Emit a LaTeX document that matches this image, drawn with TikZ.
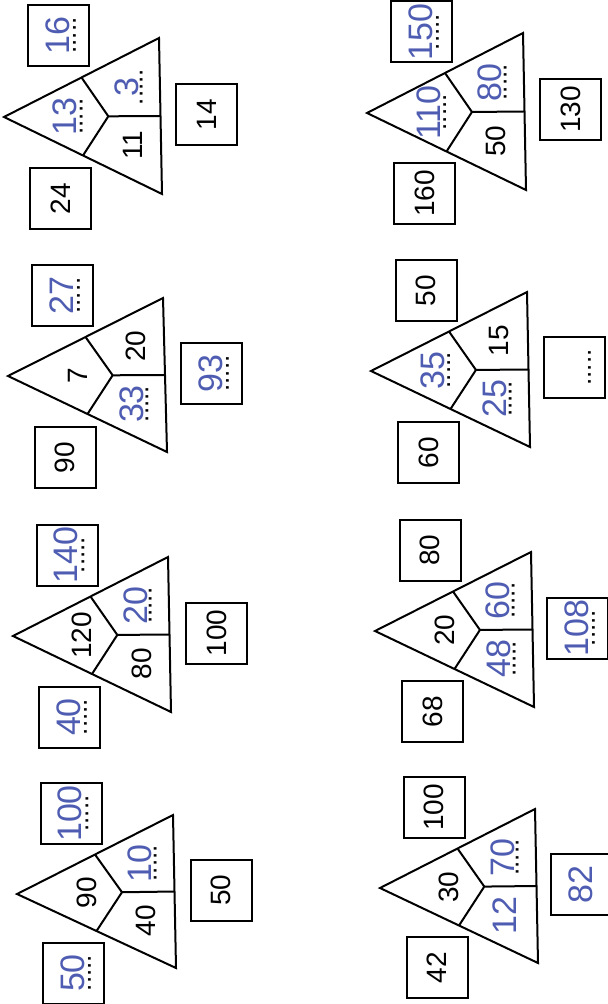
\documentclass[tikz,border=0pt]{standalone}
\usepackage{fontspec}
\setmainfont{Liberation Sans}
\usetikzlibrary{calc}
\definecolor{handblue}{RGB}{78,92,178}
\tikzset{
  triline/.style={draw=black, line width=1pt, line join=miter},
  printed/.style={rotate=90, font=\fontsize{14}{14}\selectfont, inner sep=0pt},
  handtxt/.style={rotate=90, text=handblue, font=\fontsize{17}{17}\selectfont, inner sep=0pt},
  dotline/.style={rotate=90, font=\fontsize{13}{13}\selectfont, inner sep=0pt},
  numbox/.style={draw=black, line width=1pt, minimum width=30.5pt, minimum height=30.5pt,
    inner sep=0pt, rotate=90, font=\fontsize{14}{14}\selectfont},
}
\newcommand\puzzle[4]{%
  \coordinate (#1A) at #2;
  \coordinate (#1T) at #3;
  \coordinate (#1B) at #4;
  \coordinate (#1U) at ($(#1A)!0.5!(#1T)$);
  \coordinate (#1L) at ($(#1A)!0.5!(#1B)$);
  \coordinate (#1R) at ($(#1T)!0.5!(#1B)$);
  \coordinate (#1C) at ($0.3333*(#1A)+0.3333*(#1T)+0.3333*(#1B)$);
  \coordinate (#1P) at ($0.25*(#1A)+0.25*(#1U)+0.25*(#1C)+0.25*(#1L)$);
  \coordinate (#1Q) at ($0.25*(#1U)+0.25*(#1T)+0.25*(#1R)+0.25*(#1C)$);
  \coordinate (#1S) at ($0.25*(#1C)+0.25*(#1R)+0.25*(#1B)+0.25*(#1L)$);
  \draw[triline] (#1A) -- (#1T) -- (#1B) -- cycle;
  \draw[triline] (#1U) -- (#1C) -- (#1L) (#1C) -- (#1R);
}
% printed number in a region
\newcommand\ptext[3]{\node[printed] (#1) at ($(#2)+(4,0)$) {#3};}
% handwritten answer with dotted line: name, coordinate, text, dots offset, text offset
\newcommand\handans[5]{%
  \node[dotline] (#1dots) at ($(#2)+(#4,0)$) {.....};
  \node[handtxt] (#1) at ($(#2)+(#5,0)$) {#3};
}
\newcommand\handonly[3]{\node[handtxt] (#1) at #2 {#3};}
\begin{document}
\begin{tikzpicture}[x=0.5pt,y=-0.5pt]
\useasboundingbox[fill=white] (0,0) rectangle (608,1004);
\clip (0,0) rectangle (608,1004);

% ---- Puzzle a (top left)
\puzzle{a}{(4,117)}{(159,38)}{(162,194)}
\handans{aP}{aP}{13}{12}{-4}
\handans{aQ}{aQ}{3}{14}{-1}
\ptext{aS}{aS}{11}
\node[numbox] (atop) at (58.5,35.5) {};
\handans{atopt}{atop}{16}{16}{-1}
\node[numbox] (abot) at (60.5,199) {24};
\node[numbox] (aright) at (206.5,114.5) {14};

% ---- Puzzle b (top right)
\puzzle{b}{(367,113)}{(523,33)}{(526,190)}
\handans{bP}{bP}{110}{12}{-4}
\handans{bQ}{bQ}{80}{14}{-1}
\ptext{bS}{bS}{50}
\node[numbox] (btop) at (421.5,32) {};
\handans{btopt}{btop}{150}{16}{-1}
\node[numbox] (bbot) at (424.5,193.5) {160};
\node[numbox] (bright) at (570.5,109.5) {130};

% ---- Puzzle c
\puzzle{c}{(8,376)}{(163,298)}{(167,452)}
\ptext{cP}{cP}{7}
\ptext{cQ}{cQ}{20}
\handans{cS}{cS}{33}{14}{-1}
\node[numbox] (ctop) at (62.5,295.5) {};
\handans{ctopt}{ctop}{27}{16}{-1}
\node[numbox] (cbot) at (65,457.5) {90};
\node[numbox] (cright) at (211.5,373.5) {};
\handans{crightt}{cright}{93}{16}{-1}

% ---- Puzzle d
\puzzle{d}{(371,371)}{(527,292)}{(530,447)}
\handans{dP}{dP}{35}{12}{-4}
\ptext{dQ}{dQ}{15}
\handans{dS}{dS}{25}{14}{-1}
\node[numbox] (dtop) at (426,291) {50};
\node[numbox] (dbot) at (428.5,452.5) {60};
\node[numbox] (dright) at (574.5,367.5) {};
\node[dotline] (drightdots) at ($(dright)+(15,0)$) {.....};

% ---- Puzzle e
\puzzle{e}{(13,636)}{(168,557)}{(171,712)}
\ptext{eP}{eP}{120}
\handans{eQ}{eQ}{20}{14}{-1}
\ptext{eS}{eS}{80}
\node[numbox] (etop) at (67,555) {};
\handans{etopt}{etop}{140}{16}{-1}
\node[numbox] (ebot) at (69.5,717) {};
\handans{ebott}{ebot}{40}{16}{-1}
\node[numbox] (eright) at (216.5,633) {100};

% ---- Puzzle f
\puzzle{f}{(375,631)}{(531,552)}{(534,707)}
\ptext{fP}{fP}{20}
\handans{fQ}{fQ}{60}{14}{-1}
\handans{fS}{fS}{48}{14}{-1}
\node[numbox] (ftop) at (430,550) {80};
\node[numbox] (fbot) at (432.5,711.5) {68};
\node[numbox] (fright) at (577.5,628) {};
\handans{frightt}{fright}{108}{16}{-1}

% ---- Puzzle g
\puzzle{g}{(17,894)}{(173,815)}{(176,968)}
\ptext{gP}{gP}{90}
\handans{gQ}{gQ}{10}{14}{-1}
\ptext{gS}{gS}{40}
\node[numbox] (gtop) at (71,813.5) {};
\handans{gtopt}{gtop}{100}{16}{-1}
\node[numbox] (gbot) at (73.5,973) {};
\handans{gbott}{gbot}{50}{16}{-1}
\node[numbox] (gright) at (221,890) {50};

% ---- Puzzle h
\puzzle{h}{(380,888)}{(535,809)}{(538,963)}
\ptext{hP}{hP}{30}
\handans{hQ}{hQ}{70}{14}{-1}
\handonly{hS}{(hS)}{12}
\node[numbox] (htop) at (434,807.5) {100};
\node[numbox] (hbot) at (437,967.5) {42};
\node[numbox] (hright) at (581,884.5) {};
\handonly{hrightt}{(hright)}{82}
\end{tikzpicture}
\end{document}
